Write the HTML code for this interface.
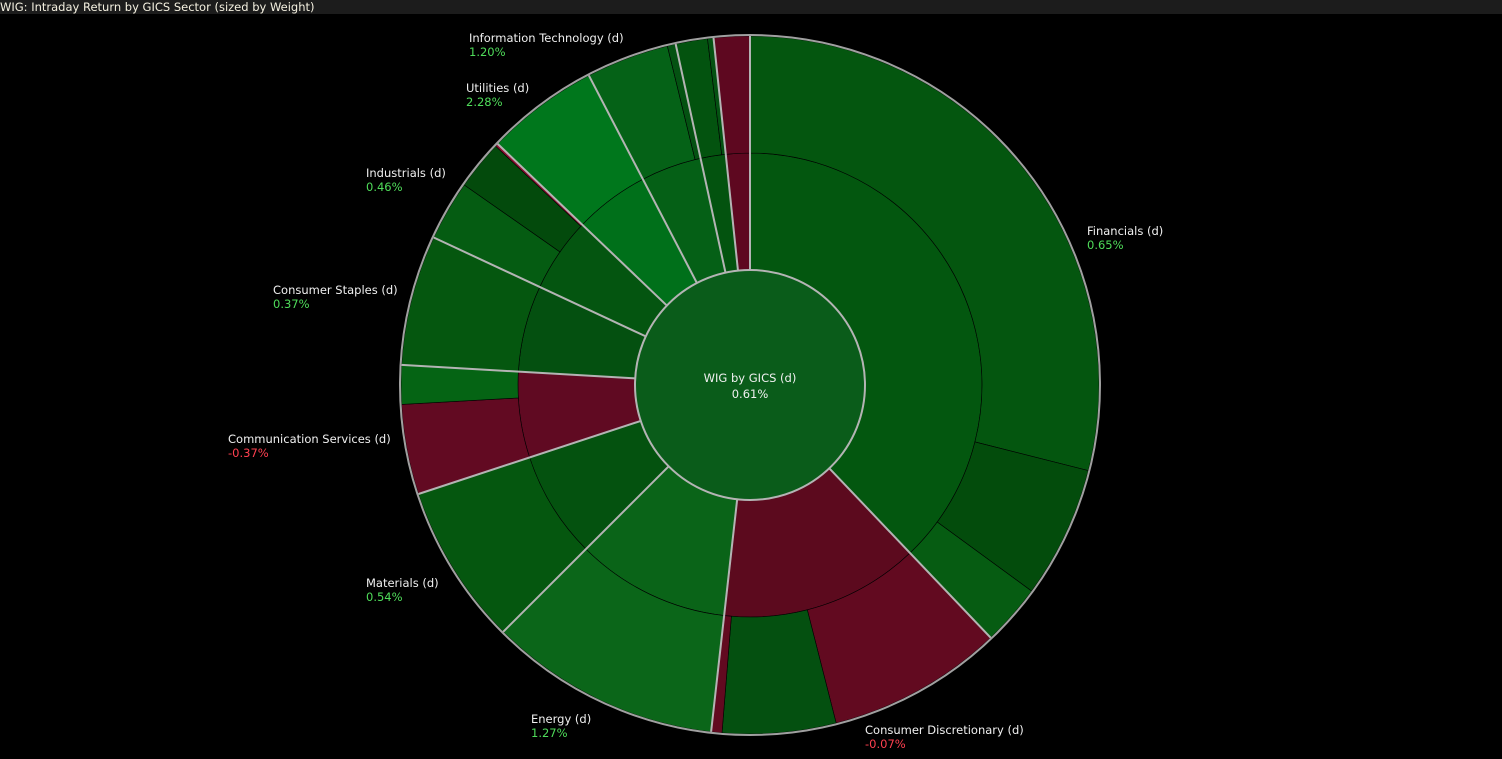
<!DOCTYPE html>
<html><head><meta charset="utf-8"><style>
body{margin:0;background:#000;width:1502px;height:759px;overflow:hidden;font-family:"DejaVu Sans","Liberation Sans",sans-serif}
#title{position:absolute;left:0;top:0;width:1502px;height:14px;background:#1c1c1c;color:#f4f0e0;font-size:11.5px;line-height:14px;white-space:nowrap}
svg{position:absolute;left:0;top:0}
.lbl{position:absolute;font-size:11.5px;line-height:14px;color:#f0f0f0;white-space:nowrap}
.up{color:#4fdc5a}.dn{color:#ff4050}
</style></head><body>
<div id="title">WIG: Intraday Return by GICS Sector (sized by Weight)</div>
<svg id="chart" width="1502" height="759"></svg>
<div id="labels"></div>
<script>
const sectorNames=["Financials","Consumer Discretionary","Energy","Materials","Communication Services","Consumer Staples","Industrials","Utilities","Information Technology","Other A","Other B"];
const sectorWeights=[136.4,50,38.6,26.8,21.5,21.7,18.7,18.8,15.2,6.3,6.0];
const sectorReturns=[0.65,-0.07,1.27,0.54,-0.37,0.37,0.46,2.28,1.20,0.3,-0.5];
const sectorColors=["#03570f","#5c0a1e","#0a6418","#04520f","#600a22","#045010","#045510","#00701a","#056016","#03530f","#5e0820"];
const childWeights=[[104.2,22,10.2],[29.3,18.9,1.8],[38.6],[26.8],[15,6.5],[21.7],[10,8.2,0.5],[18.8],[13.8,1.4],[5.3,1],[6.0]];
const childColors=[["#04560f","#034c0c","#065c12"],["#620a20","#045010","#620a20"],["#0b6619"],["#05570f"],["#620a22","#056414"],["#05570f"],["#055c12","#034a0c","#8a1030"],["#00771c"],["#056217","#045212"],["#03530f","#045212"],["#5e0820"]];
const labelPos=[[1087,224],[865,723],[531,712],[366,576],[228,432],[273,283],[366,166],[466,81],[469,31],null,null];
const centerReturn=0.61;
const cx=750,cy=385,r0=115,r1=232,r2=349;
const NS="http://www.w3.org/2000/svg";
const svg=document.getElementById('chart');
const total=sectorWeights.reduce((a,b)=>a+b,0);
function ang(w){return w/total*2*Math.PI;}
function pt(r,a){return [cx+r*Math.sin(a),cy-r*Math.cos(a)];}
function arc(ri,ro,a0,a1){const l=(a1-a0)>Math.PI?1:0;const p1=pt(ro,a0),p2=pt(ro,a1),p3=pt(ri,a1),p4=pt(ri,a0);
return `M${p1[0]},${p1[1]}A${ro},${ro} 0 ${l} 1 ${p2[0]},${p2[1]}L${p3[0]},${p3[1]}A${ri},${ri} 0 ${l} 0 ${p4[0]},${p4[1]}Z`;}
function mk(tag,at){const e=document.createElementNS(NS,tag);for(const k in at)e.setAttribute(k,at[k]);svg.appendChild(e);return e;}
let a=0;const bounds=[];
sectorWeights.forEach((w,i)=>{
  const a0=a,a1=a+ang(w);bounds.push(a0);
  const p=mk('path',{d:arc(r0,r1,a0,a1),fill:sectorColors[i],stroke:'#000','stroke-width':0.6});
  
  
  const cs=childWeights[i].reduce((x,y)=>x+y,0);let b=a0;
  childWeights[i].forEach((cw,j)=>{const b1=b+(a1-a0)*cw/cs;
    const c=mk('path',{d:arc(r1,r2,b,b1),fill:childColors[i][j],stroke:'#000','stroke-width':0.6});
    
    
    b=b1;});
  a=a1;
});
bounds.forEach(b=>{const p1=pt(r0,b),p2=pt(r2,b);
  const l=mk('line',{x1:p1[0],y1:p1[1],x2:p2[0],y2:p2[1],stroke:'#b4b4b4','stroke-width':2});
  
  });
const ring=mk('circle',{cx:cx,cy:cy,r:r2+1,fill:'none',stroke:'#a0a0a0','stroke-width':2});


const ctr=mk('circle',{cx:cx,cy:cy,r:r0,fill:'#0a5c1a',stroke:'#b4b4b4','stroke-width':2});


const t1=mk('text',{x:cx,y:cy-3,'text-anchor':'middle',fill:'#f0f0f0','font-size':11.5,'font-family':'DejaVu Sans, Liberation Sans, sans-serif'});t1.textContent='WIG by GICS (d)';


const t2=mk('text',{x:cx,y:cy+13,'text-anchor':'middle',fill:'#f0f0f0','font-size':11.5,'font-family':'DejaVu Sans, Liberation Sans, sans-serif'});t2.textContent=centerReturn.toFixed(2)+'%';


const L=document.getElementById('labels');
sectorNames.forEach((n,i)=>{if(!labelPos[i])return;const d=document.createElement('div');d.className='lbl';
  d.style.left=labelPos[i][0]+'px';d.style.top=labelPos[i][1]+'px';
  const r=sectorReturns[i];
  d.innerHTML=n+' (d)<br><span class="'+(r<0?'dn':'up')+'">'+r.toFixed(2)+'%</span>';
  
  
  L.appendChild(d);});
</script>
</body></html>
